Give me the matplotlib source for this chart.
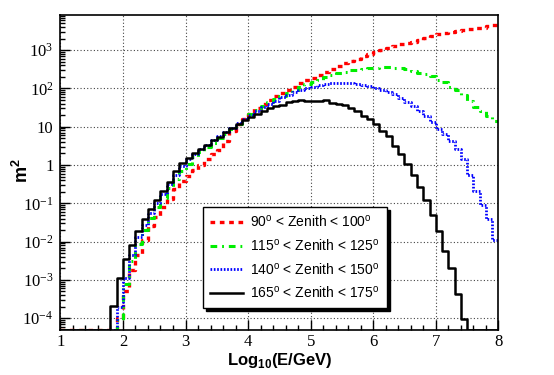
import numpy as np
import matplotlib
matplotlib.use("Agg")
import matplotlib.pyplot as plt
from matplotlib.ticker import FixedLocator, FixedFormatter, LogLocator, MultipleLocator, NullFormatter

# ------------------ CONFIG ------------------

plt.rcParams["font.family"] = "Liberation Sans"
plt.rcParams["mathtext.fontset"] = "custom"
plt.rcParams["mathtext.rm"] = "Liberation Serif"
plt.rcParams["mathtext.sf"] = "Liberation Sans"
plt.rcParams["mathtext.bf"] = "Liberation Sans:bold"

YMIN, YMAX = 5.04e-5, 8450

# ------------------ DATA ------------------

# bin edges of log10(E/GeV), 0.1 wide
edges = np.round(np.arange(1.0, 8.05, 0.1), 1)

# m^2 per bin (0 = empty bin)
zen_90_100 = [0, 0, 0, 0, 0, 0, 0, 0, 0,
              1.0e-4, 5.0e-4, 1.8e-3, 4.5e-3, 1.1e-2, 2.5e-2, 4.5e-2, 7.9e-2, 0.13, 0.24,
              0.38, 0.52, 0.74, 1.0, 1.4, 1.9, 2.4, 4.2, 7.9, 12,
              16, 22, 30, 39, 50, 63, 76, 93, 112, 138,
              162, 191, 224, 263, 316, 380, 457, 525, 603, 692,
              794, 891, 1000, 1150, 1320, 1480, 1580, 1660, 1860, 2040,
              2290, 2630, 2820, 3020, 3160, 3390, 3550, 3720, 3890, 4170,
              4570]

zen_115_125 = [0, 0, 0, 0, 0, 0, 0, 0, 0,
               9e-5, 7.9e-4, 3.2e-3, 8.9e-3, 2.0e-2, 4.2e-2, 7.9e-2, 0.14, 0.25, 0.44,
               0.71, 1.05, 1.6, 2.2, 3.0, 3.8, 5.0, 6.6, 8.9, 12,
               16, 21, 27, 35, 43, 52, 63, 76, 91, 110,
               129, 148, 170, 195, 224, 251, 275, 295, 309, 331,
               339, 347, 355, 355, 347, 339, 316, 288, 257, 234,
               209, 170, 148, 112, 89, 66, 47, 33, 25, 19,
               14]

zen_140_150 = [0, 0, 0, 0, 0, 0, 0, 0, 0,
               2.0e-4, 1.1e-3, 4.5e-3, 1.3e-2, 2.8e-2, 5.6e-2, 0.10, 0.18, 0.32, 0.56,
               0.93, 1.4, 1.9, 2.6, 3.4, 4.4, 5.6, 7.4, 9.5, 12.3,
               16, 20, 26, 32, 40, 48, 58, 69, 81, 93,
               105, 112, 120, 129, 135, 138, 141, 138, 132, 123,
               115, 102, 91, 81, 71, 56, 45, 34, 26, 19,
               13.5, 8.9, 6.3, 4.3, 2.7, 1.4, 0.56, 0.21, 0.091, 0.040,
               0.011]

zen_165_175 = [0, 0, 0, 0, 0, 0, 0, 0,
               2.1e-4, 1.1e-3, 3.5e-3, 8.1e-3, 1.9e-2, 3.8e-2, 7.2e-2, 0.12, 0.21, 0.37,
               0.68, 1.1, 1.5, 2.1, 2.6, 3.4, 4.4, 5.5, 7.4, 9.1,
               11.7, 15, 18, 22, 26, 30, 34, 38, 43, 48,
               49, 48, 47, 46, 50, 42, 40, 36, 31, 25,
               19.5, 16, 12, 7.8, 5.6, 3.1, 1.9, 1.07, 0.54, 0.27,
               0.12, 0.049, 0.019, 5.8e-3, 2.0e-3, 4.4e-4, 9.5e-5, 0, 0, 0,
               0, 0]

labels = [r"90$^{\mathsf{o}}$ < Zenith < 100$^{\mathsf{o}}$",
          r"115$^{\mathsf{o}}$ < Zenith < 125$^{\mathsf{o}}$",
          r"140$^{\mathsf{o}}$ < Zenith < 150$^{\mathsf{o}}$",
          r"165$^{\mathsf{o}}$ < Zenith < 175$^{\mathsf{o}}$"]

ytick_vals = [1e-4, 1e-3, 1e-2, 1e-1, 1, 10, 1e2, 1e3]
ytick_text = [r"$\mathrm{10^{-4}}$", r"$\mathrm{10^{-3}}$", r"$\mathrm{10^{-2}}$",
              r"$\mathrm{10^{-1}}$", "1", "10", r"$\mathrm{10^{2}}$", r"$\mathrm{10^{3}}$"]

# ------------------ PLOT ------------------

fig = plt.figure(figsize=(5.54, 3.75), dpi=100)
ax = fig.add_axes([0.109, 0.121, 0.7905, 0.840])

styles = [
    dict(color="#ff0000", lw=2.4, dashes=(1.4, 1.4)),
    dict(color="#00ee00", lw=2.2, dashes=(2.2, 1.6, 0.6, 1.6)),
    dict(color="#0000ff", lw=2.0, dashes=(0.6, 0.6)),
    dict(color="black", lw=1.8, linestyle="-"),
]

for vals, lab, st in zip([zen_90_100, zen_115_125, zen_140_150, zen_165_175], labels, styles):
    v = np.asarray(vals, dtype=float)
    v = np.where(v > 0, v, YMIN)   # empty bins sit on the frame, like ROOT
    # steps-post needs the last value repeated to close the final bin
    ax.plot(edges, np.append(v, v[-1]), drawstyle="steps-post", label=lab, **st)

ax.set_yscale("log")
ax.set_xlim(1, 8)
ax.set_ylim(YMIN, YMAX)

ax.yaxis.set_major_locator(FixedLocator(ytick_vals))
ax.yaxis.set_major_formatter(FixedFormatter(ytick_text))
ax.yaxis.set_minor_locator(LogLocator(base=10, subs=np.arange(2, 10), numticks=20))
ax.yaxis.set_minor_formatter(NullFormatter())
ax.xaxis.set_major_locator(MultipleLocator(1))
ax.xaxis.set_minor_locator(MultipleLocator(0.2))

ax.tick_params(which="both", direction="in", top=False, right=False, width=1.0)
ax.tick_params(which="major", length=7, labelsize=12)
ax.tick_params(axis="y", which="major", pad=5)
ax.tick_params(axis="x", which="major", pad=3)
ax.tick_params(which="minor", length=3.5)
for t in ax.get_xticklabels() + ax.get_yticklabels():
    t.set_fontfamily("Liberation Serif")

for s in ax.spines.values():
    s.set_linewidth(1.2)

ax.grid(True, which="major", color="#444444", linestyle=(0, (1, 2)), linewidth=0.8)

fig.text(0.5045, 0.064, r"Log$_{\mathbf{10}}$(E/GeV)", ha="center", va="top",
         fontsize=12, fontweight="bold")
fig.text(0.04, 0.545, r"m$^{\mathbf{2}}$", rotation=90, ha="center", va="center",
         fontsize=13, fontweight="bold")

leg = ax.legend(loc="upper left", bbox_to_anchor=(0.326, 0.389), borderaxespad=0,
                frameon=True, fancybox=False, shadow={"color": "black", "alpha": 1},
                fontsize=10, handlelength=2.4, handletextpad=0.5, labelspacing=0.55,
                borderpad=0.5)
leg.get_frame().set_edgecolor("black")
leg.get_frame().set_linewidth(1.0)

fig.savefig("out.png", dpi=100)
